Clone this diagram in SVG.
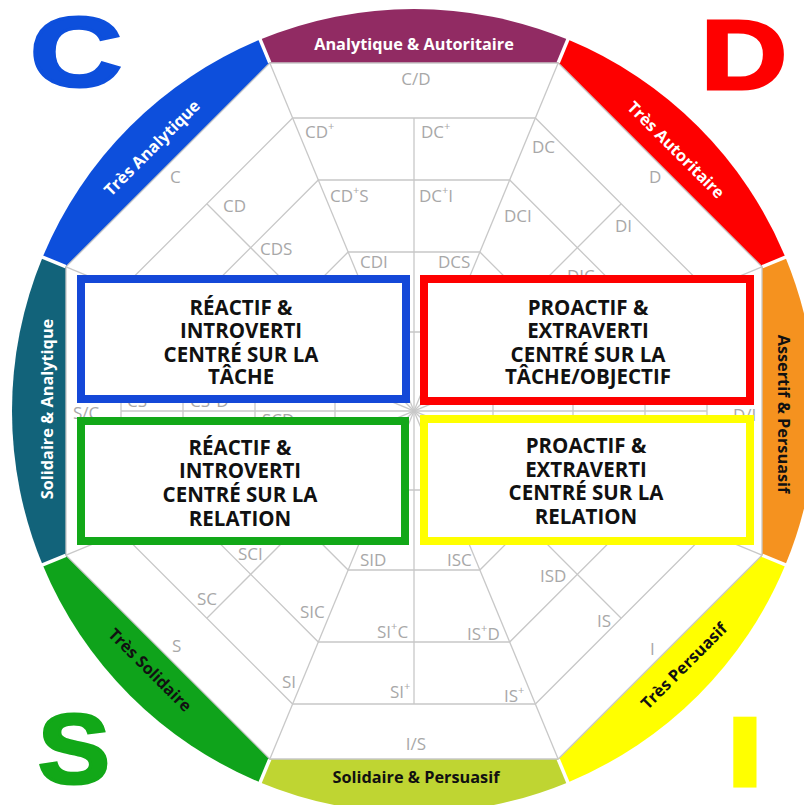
<svg xmlns="http://www.w3.org/2000/svg" width="804" height="805" viewBox="0 0 804 805">
<style>
.grid{stroke:#c8c8c8;stroke-width:1.3;fill:none}
.lbl{font-family:"Open Sans","Liberation Sans",sans-serif;font-size:17px;fill:#a8a8a8}
.rt{font-family:"Open Sans","Liberation Sans",sans-serif;font-weight:700;font-size:16.3px;text-anchor:middle}
.w{fill:#ffffff}
.k{fill:#111111}
.sep{stroke:#ffffff;stroke-width:3.5}
.box{fill:#ffffff;stroke-width:8}
.bt{font-family:"Open Sans","Liberation Sans",sans-serif;font-weight:700;font-size:20.5px;text-anchor:middle;fill:#111111}
.big{font-family:"Liberation Sans",Arial,sans-serif;font-weight:700;font-size:98px;text-anchor:middle}
</style>
<rect width="804" height="805" fill="#ffffff"/>

<g id="ring">
  <g id="seg-analytique-autoritaire">
    <path d="M269.85 63 L558.15 63 L567.84 39.6 A402 402 0 0 0 260.16 39.6 Z" fill="#912b63"/>
    <text class="rt w" x="414" y="50">Analytique &amp; Autoritaire</text>
  </g>
  <g id="seg-tres-autoritaire">
    <path d="M558.15 63 L762 266.85 L785.4 257.16 A402 402 0 0 0 567.84 39.6 Z" fill="#fe0000"/>
    <text class="rt w" x="672" y="154" transform="rotate(45 672 154)">Très Autoritaire</text>
  </g>
  <g id="seg-assertif-persuasif">
    <path d="M762 266.85 L762 555.15 L785.4 564.84 A402 402 0 0 0 785.4 257.16 Z" fill="#f5921f"/>
    <text class="rt k" x="778" y="414" transform="rotate(90 778 414)">Assertif &amp; Persuasif</text>
  </g>
  <g id="seg-tres-persuasif">
    <path d="M762 555.15 L558.15 759 L567.84 782.4 A402 402 0 0 0 785.4 564.84 Z" fill="#ffff00"/>
    <text class="rt k" x="688" y="670" transform="rotate(-45 688 670)">Très Persuasif</text>
  </g>
  <g id="seg-solidaire-persuasif">
    <path d="M558.15 759 L269.85 759 L260.16 782.4 A402 402 0 0 0 567.84 782.4 Z" fill="#bfd532"/>
    <text class="rt k" x="416" y="783">Solidaire &amp; Persuasif</text>
  </g>
  <g id="seg-tres-solidaire">
    <path d="M269.85 759 L66 555.15 L42.6 564.84 A402 402 0 0 0 260.16 782.4 Z" fill="#0fa31b"/>
    <text class="rt k" x="146" y="674" transform="rotate(45 146 674)">Très Solidaire</text>
  </g>
  <g id="seg-solidaire-analytique">
    <path d="M66 555.15 L66 266.85 L42.6 257.16 A402 402 0 0 0 42.6 564.84 Z" fill="#12637a"/>
    <text class="rt w" x="53" y="409" transform="rotate(-90 53 409)">Solidaire  &amp; Analytique</text>
  </g>
  <g id="seg-tres-analytique">
    <path d="M66 266.85 L269.85 63 L260.16 39.6 A402 402 0 0 0 42.6 257.16 Z" fill="#0d4fdc"/>
    <text class="rt w" x="156" y="152" transform="rotate(-45 156 152)">Très Analytique</text>
  </g>
  <g id="ring-separators">
    <line class="sep" x1="269.73" y1="62.7" x2="256.34" y2="30.36"/>
    <line class="sep" x1="558.27" y1="62.7" x2="571.66" y2="30.36"/>
    <line class="sep" x1="762.3" y1="266.73" x2="794.64" y2="253.34"/>
    <line class="sep" x1="762.3" y1="555.27" x2="794.64" y2="568.66"/>
    <line class="sep" x1="558.27" y1="759.3" x2="571.66" y2="791.64"/>
    <line class="sep" x1="269.73" y1="759.3" x2="256.34" y2="791.64"/>
    <line class="sep" x1="65.7" y1="555.27" x2="33.36" y2="568.66"/>
    <line class="sep" x1="65.7" y1="266.73" x2="33.36" y2="253.34"/>
  </g>
</g>

<g id="connectors">
  <polygon class="grid" points="269.85,63 558.15,63 762,266.85 762,555.15 558.15,759 269.85,759 66,555.15 66,266.85"/>
  <polygon class="grid" points="292.64,118 535.36,118 707,289.64 707,532.36 535.36,704 292.64,704 121,532.36 121,289.64"/>
  <polygon class="grid" points="318.32,180 509.68,180 645,315.32 645,506.68 509.68,642 318.32,642 183,506.68 183,315.32"/>
  <polygon class="grid" points="348.14,252 479.86,252 573,345.14 573,476.86 479.86,570 348.14,570 255,476.86 255,345.14"/>
  <polygon class="grid" points="381.28,332 446.72,332 493,378.28 493,443.72 446.72,490 381.28,490 335,443.72 335,378.28"/>
  <line class="grid" x1="269.85" y1="63" x2="558.15" y2="759"/>
  <line class="grid" x1="558.15" y1="63" x2="269.85" y2="759"/>
  <line class="grid" x1="66" y1="266.85" x2="762" y2="555.15"/>
  <line class="grid" x1="762" y1="266.85" x2="66" y2="555.15"/>
  <line class="grid" x1="414" y1="118" x2="414" y2="704"/>
  <line class="grid" x1="121" y1="411" x2="707" y2="411"/>
  <line class="grid" x1="206.82" y1="203.82" x2="621.18" y2="618.18"/>
  <line class="grid" x1="621.18" y1="203.82" x2="206.82" y2="618.18"/>
</g>

<g id="labels">
  <text class="lbl" x="416" y="85" text-anchor="middle">C/D</text>
  <text class="lbl" x="305" y="138">CD<tspan dy="-8" font-size="11">+</tspan></text>
  <text class="lbl" x="421" y="138">DC<tspan dy="-8" font-size="11">+</tspan></text>
  <text class="lbl" x="330" y="202">CD<tspan dy="-8" font-size="11">+</tspan><tspan dy="8">S</tspan></text>
  <text class="lbl" x="419" y="202">DC<tspan dy="-8" font-size="11">+</tspan><tspan dy="8">I</tspan></text>
  <text class="lbl" x="360" y="268">CDI</text>
  <text class="lbl" x="438" y="268">DCS</text>
  <text class="lbl" x="170" y="183">C</text>
  <text class="lbl" x="223" y="212">CD</text>
  <text class="lbl" x="260" y="255">CDS</text>
  <text class="lbl" x="532" y="153">DC</text>
  <text class="lbl" x="649" y="183">D</text>
  <text class="lbl" x="504" y="222">DCI</text>
  <text class="lbl" x="615" y="232">DI</text>
  <text class="lbl" x="567" y="282">DIC</text>
  <text class="lbl" x="73" y="419">S/C</text>
  <text class="lbl" x="127" y="407">CS</text>
  <text class="lbl" x="190" y="407">CS<tspan dy="-8" font-size="11">+</tspan><tspan dy="8">D</tspan></text>
  <text class="lbl" x="262" y="426">SCD</text>
  <text class="lbl" x="733" y="421">D/I</text>
  <text class="lbl" x="238" y="560">SCI</text>
  <text class="lbl" x="197" y="605">SC</text>
  <text class="lbl" x="300" y="618">SIC</text>
  <text class="lbl" x="172" y="652">S</text>
  <text class="lbl" x="282" y="688">SI</text>
  <text class="lbl" x="360" y="566">SID</text>
  <text class="lbl" x="447" y="566">ISC</text>
  <text class="lbl" x="377" y="638">SI<tspan dy="-8" font-size="11">+</tspan><tspan dy="8">C</tspan></text>
  <text class="lbl" x="467" y="640">IS<tspan dy="-8" font-size="11">+</tspan><tspan dy="8">D</tspan></text>
  <text class="lbl" x="390" y="698">SI<tspan dy="-8" font-size="11">+</tspan></text>
  <text class="lbl" x="504" y="702">IS<tspan dy="-8" font-size="11">+</tspan></text>
  <text class="lbl" x="416" y="750" text-anchor="middle">I/S</text>
  <text class="lbl" x="540" y="582">ISD</text>
  <text class="lbl" x="597" y="627">IS</text>
  <text class="lbl" x="650" y="655">I</text>
</g>

<g id="box-c">
  <rect class="box" x="81" y="279" width="325" height="120" stroke="#1448d8"/>
  <text class="bt" x="241" y="315">RÉACTIF &amp;</text>
  <text class="bt" x="241" y="338">INTROVERTI</text>
  <text class="bt" x="241" y="362">CENTRÉ SUR LA</text>
  <text class="bt" x="241" y="384">TÂCHE</text>
</g>
<g id="box-d">
  <rect class="box" x="424" y="279" width="326" height="122" stroke="#fe0000"/>
  <text class="bt" x="588" y="315">PROACTIF &amp;</text>
  <text class="bt" x="588" y="338">EXTRAVERTI</text>
  <text class="bt" x="588" y="362">CENTRÉ SUR LA</text>
  <text class="bt" x="588" y="384">TÂCHE/OBJECTIF</text>
</g>
<g id="box-s">
  <rect class="box" x="81" y="421" width="324" height="120" stroke="#12a818"/>
  <text class="bt" x="240" y="455">RÉACTIF &amp;</text>
  <text class="bt" x="240" y="478">INTROVERTI</text>
  <text class="bt" x="240" y="502">CENTRÉ SUR LA</text>
  <text class="bt" x="240" y="526">RELATION</text>
</g>
<g id="box-i">
  <rect class="box" x="424" y="419" width="326" height="122" stroke="#ffff00"/>
  <text class="bt" x="586" y="453">PROACTIF &amp;</text>
  <text class="bt" x="586" y="477">EXTRAVERTI</text>
  <text class="bt" x="586" y="500">CENTRÉ SUR LA</text>
  <text class="bt" x="586" y="524">RELATION</text>
</g>

<g id="letters">
  <text class="big" fill="#0d4fdc" stroke="#0d4fdc" stroke-width="3" transform="translate(76 86) scale(1.3 1)">C</text>
  <text class="big" fill="#fe0000" stroke="#fe0000" stroke-width="3" transform="translate(744 89) scale(1.22 1)">D</text>
  <text class="big" fill="#12a818" stroke="#12a818" stroke-width="3" transform="translate(74 783) scale(1.1 1)">S</text>
  <text class="big" fill="#ffff00" stroke="#ffff00" stroke-width="3" transform="translate(745 786) scale(1.35 1)">I</text>
</g>
</svg>
